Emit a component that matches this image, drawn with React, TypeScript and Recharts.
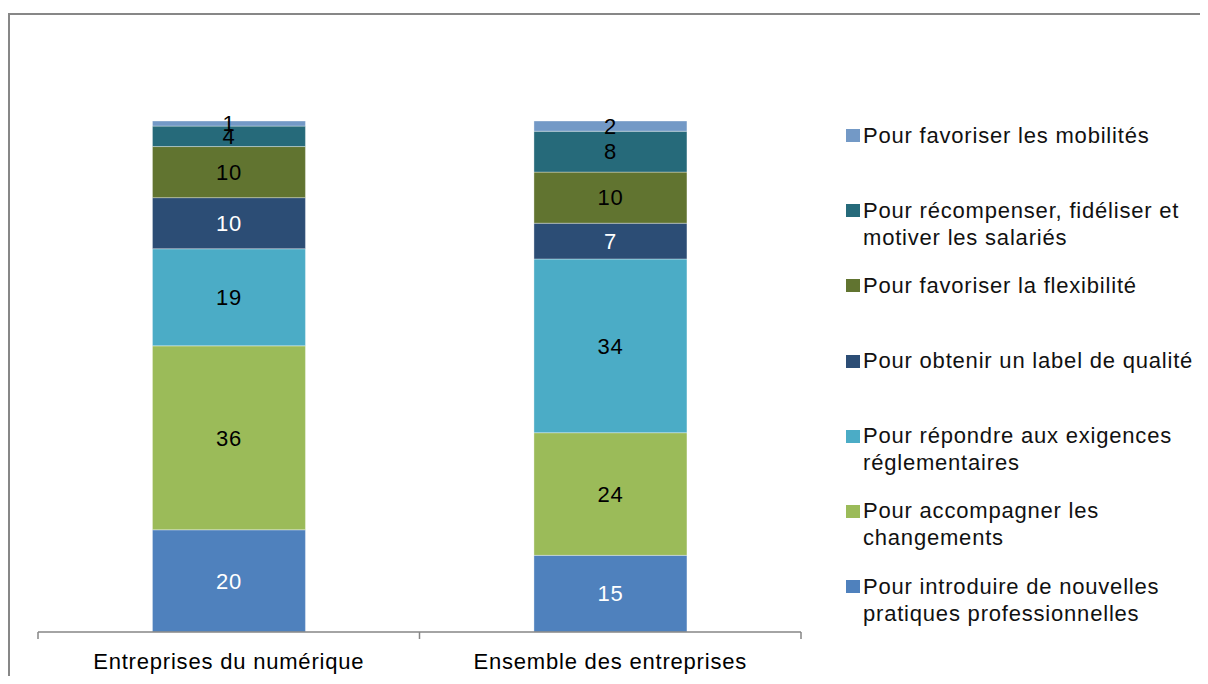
import React from "react";
import { BarChart, Bar, XAxis, YAxis, LabelList, Legend } from "recharts";

const categories = ["Entreprises du numérique", "Ensemble des entreprises"];
const introduire = [20, 15];
const accompagner = [36, 24];
const reglementaires = [19, 34];
const labelQualite = [10, 7];
const flexibilite = [10, 10];
const recompenser = [4, 8];
const mobilites = [1, 2];

const series = [
  { key: "introduire", name: "Pour introduire de nouvelles pratiques professionnelles", values: introduire, color: "#4F81BD", text: "#FFFFFF" },
  { key: "accompagner", name: "Pour accompagner les changements", values: accompagner, color: "#9BBB59", text: "#000000" },
  { key: "reglementaires", name: "Pour répondre aux exigences réglementaires", values: reglementaires, color: "#4BACC6", text: "#000000" },
  { key: "labelQualite", name: "Pour obtenir un label de qualité", values: labelQualite, color: "#2C4D75", text: "#FFFFFF" },
  { key: "flexibilite", name: "Pour favoriser la flexibilité", values: flexibilite, color: "#617430", text: "#000000" },
  { key: "recompenser", name: "Pour récompenser, fidéliser et motiver les salariés", values: recompenser, color: "#266A7A", text: "#000000" },
  { key: "mobilites", name: "Pour favoriser les mobilités", values: mobilites, color: "#7399C6", text: "#000000" },
];

const rows = categories.map((name, i) => {
  const r: Record<string, string | number> = { name };
  series.forEach((s) => {
    r[s.key] = s.values[i];
  });
  return r;
});

// positions along the category axis in [0, 1]: even steps are band boundaries, odd steps band centres
const N = categories.length;
const axisTicks = Array.from({ length: 2 * N + 1 }, (_, i) => i / (2 * N));

const FONT = "'Liberation Sans', Arial, Helvetica, sans-serif";
const AXIS_COLOR = "#868686";

const BoundaryTick = (props: any) => {
  const { x, y, payload } = props;
  const step = Math.round((payload.value as number) * 2 * N);
  if (step % 2 === 0) {
    return <line x1={x} x2={x} y1={y} y2={y + 7} stroke={AXIS_COLOR} strokeWidth={1.5} />;
  }
  return (
    <text
      x={x}
      y={y + 37}
      textAnchor="middle"
      fontSize={22}
      fontFamily={FONT}
      fill="#000"
      style={{ letterSpacing: "0.8px" }}
    >
      {categories[(step - 1) / 2]}
    </text>
  );
};

const LegendContent = () => (
  <div style={{ fontFamily: FONT, fontSize: 22, letterSpacing: "0.8px", color: "#111" }}>
    {[...series].reverse().map((s) => (
      <div key={s.key} style={{ display: "flex", alignItems: "flex-start", height: 75.2 }}>
        <div style={{ width: 14, height: 13, marginTop: 7.5, marginRight: 3, background: s.color, flex: "none" }} />
        <div style={{ width: 340, lineHeight: "27px" }}>{s.name}</div>
      </div>
    ))}
  </div>
);

export default function App() {
  return (
    <div style={{ position: "relative", width: 1200, height: 668 }}>
      <div
        style={{
          position: "absolute",
          left: 0,
          top: 5,
          width: 1200,
          height: 663,
          borderLeft: "2px solid #878787",
          borderTop: "2px solid #878787",
          boxSizing: "border-box",
        }}
      />
      <div style={{ position: "absolute", left: 0, top: 0 }}>
        <BarChart
          width={1200}
          height={668}
          data={rows}
          margin={{ top: 113, right: 407, bottom: 0, left: 30 }}
          barCategoryGap="30%"
        >
          <XAxis xAxisId="cat" dataKey="name" hide height={0} />
          <XAxis
            xAxisId="num"
            type="number"
            domain={[0, 1]}
            ticks={axisTicks}
            interval={0}
            allowDataOverflow
            height={44}
            tickSize={0}
            tickMargin={0}
            tickLine={false}
            axisLine={{ stroke: AXIS_COLOR, strokeWidth: 1.5 }}
            tick={<BoundaryTick />}
          />
          <YAxis hide domain={[0, 100]} />
          <Legend
            layout="vertical"
            align="center"
            verticalAlign="middle"
            wrapperStyle={{ left: 838, top: 113.5, width: 370 }}
            content={<LegendContent />}
          />
          {series.map((s) => (
            <Bar
              key={s.key}
              xAxisId="cat"
              dataKey={s.key}
              name={s.name}
              stackId="a"
              fill={s.color}
              stroke="#FFFFFF"
              strokeOpacity={0.35}
              strokeWidth={1}
              isAnimationActive={false}
            >
              <LabelList
                dataKey={s.key}
                position="center"
                fill={s.text}
                fontSize={22}
                fontFamily={FONT}
                style={{ letterSpacing: "0.8px" }}
              />
            </Bar>
          ))}
        </BarChart>
      </div>
    </div>
  );
}
